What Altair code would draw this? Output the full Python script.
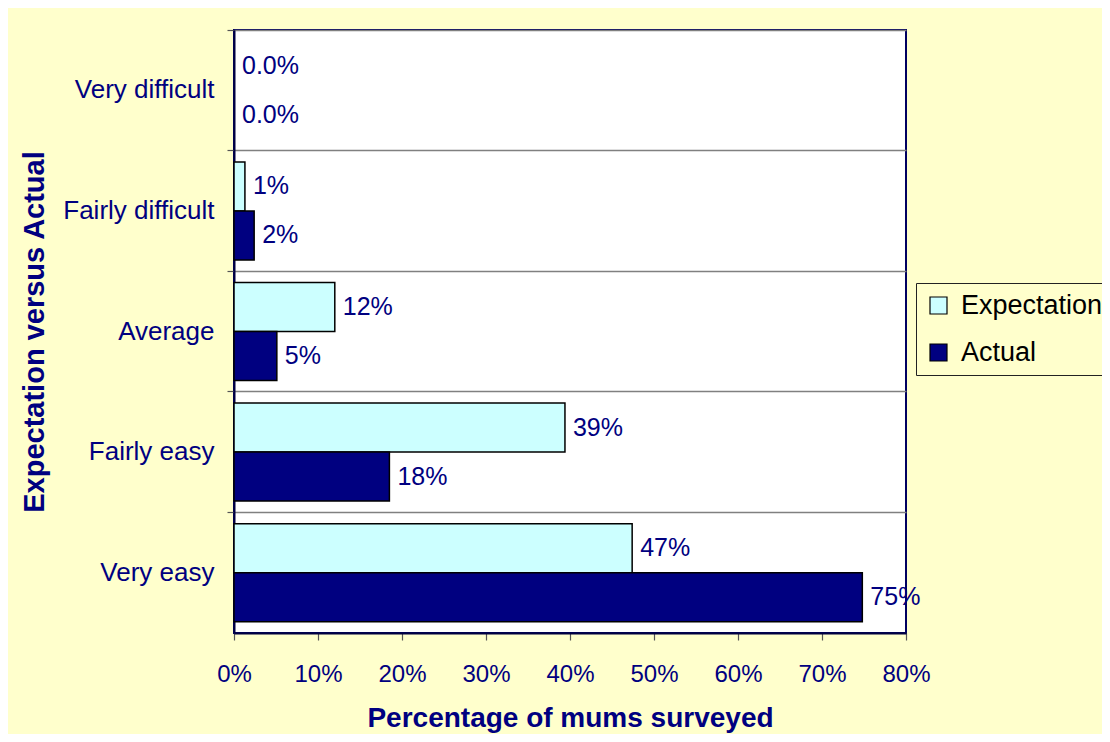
import altair as alt
import pandas as pd

categories = ["Very difficult", "Fairly difficult", "Average", "Fairly easy", "Very easy"]
series = ["Expectation", "Actual"]
expectation = [0.0, 0.013, 0.12, 0.394, 0.474]
actual = [0.0, 0.024, 0.051, 0.185, 0.748]
x_ticks = [0, 0.1, 0.2, 0.3, 0.4, 0.5, 0.6, 0.7, 0.8]
series_colors = ["#CCFFFF", "#000080"]

rows = []
for c, e, a in zip(categories, expectation, actual):
    rows.append({"category": c, "series": "Expectation", "value": e})
    rows.append({"category": c, "series": "Actual", "value": a})
df = pd.DataFrame(rows)
df["label"] = [f"{v:.1%}" if v == 0 else f"{v:.0%}" for v in df["value"]]

NAVY = "#000080"
FONT = "Liberation Sans"
W, H = 672, 603

y_enc = alt.Y(
    "category:N",
    sort=categories,
    scale=alt.Scale(paddingInner=0, paddingOuter=0),
    axis=alt.Axis(
        title="Expectation versus Actual",
        titleFontSize=29, titleFontWeight="bold", titleColor=NAVY, titleFont=FONT,
        titleAngle=270, titleBaseline="alphabetic", titleAlign="center",
        titleX=-191, titleY=H / 2,
        bandPosition=0,
        labelFontSize=26, labelColor=NAVY, labelFont=FONT, labelPadding=13,
        labelBaseline="middle",
        grid=True, gridColor="#808080", gridWidth=1.5,
        tickSize=7, tickColor="#555555", tickWidth=1.2,
        domainColor="#000040", domainWidth=2,
    ),
)
yoff_enc = alt.YOffset(
    "series:N", sort=series, scale=alt.Scale(paddingInner=0, paddingOuter=0.23)
)
x_enc = alt.X(
    "value:Q",
    scale=alt.Scale(domain=[0, 0.8], nice=False),
    axis=alt.Axis(
        title="Percentage of mums surveyed",
        titleFontSize=28, titleFontWeight="bold", titleColor=NAVY, titleFont=FONT,
        titleBaseline="alphabetic", titleY=93,
        values=x_ticks, format=".0%", labelFlush=False,
        labelFontSize=24, labelColor=NAVY, labelFont=FONT, labelPadding=22,
        grid=False, tickSize=7, tickColor="#555555", tickWidth=1.2,
        domainColor="#000040", domainWidth=2,
    ),
)

bars = alt.Chart(df).mark_bar(stroke="black", opacity=1).encode(
    x=x_enc,
    y=y_enc,
    yOffset=yoff_enc,
    strokeWidth=alt.condition(alt.datum.value == 0, alt.value(0), alt.value(1.5)),
    color=alt.Color(
        "series:N",
        scale=alt.Scale(domain=series, range=series_colors),
        legend=alt.Legend(
            title=None, orient="none", legendX=682, legendY=253,
            strokeColor="#222222", fillColor="#FFFFCC", padding=9,
            labelFontSize=27, labelFont=FONT, labelColor="black",
            symbolType="square", symbolSize=289, symbolStrokeColor="black",
            symbolStrokeWidth=1.2, symbolOpacity=1,
            rowPadding=19, labelOffset=9,
        ),
    ),
)

labels = alt.Chart(df).mark_text(
    align="left", baseline="middle", dx=8, fontSize=25, color=NAVY, font=FONT
).encode(x=x_enc, y=y_enc, yOffset=yoff_enc, text="label:N")

chart = (
    (bars + labels)
    .properties(
        width=W,
        height=H,
        autosize="none",
        padding={"left": 226, "top": 22, "right": 1094 - 226 - W, "bottom": 726 - 22 - H},
        background="#FFFFCC",
    )
    .configure(font=FONT)
    .configure_view(stroke="#000060", strokeWidth=2, fill="white")
)

chart.save("out.html", embed_options={"renderer": "svg", "actions": False})
